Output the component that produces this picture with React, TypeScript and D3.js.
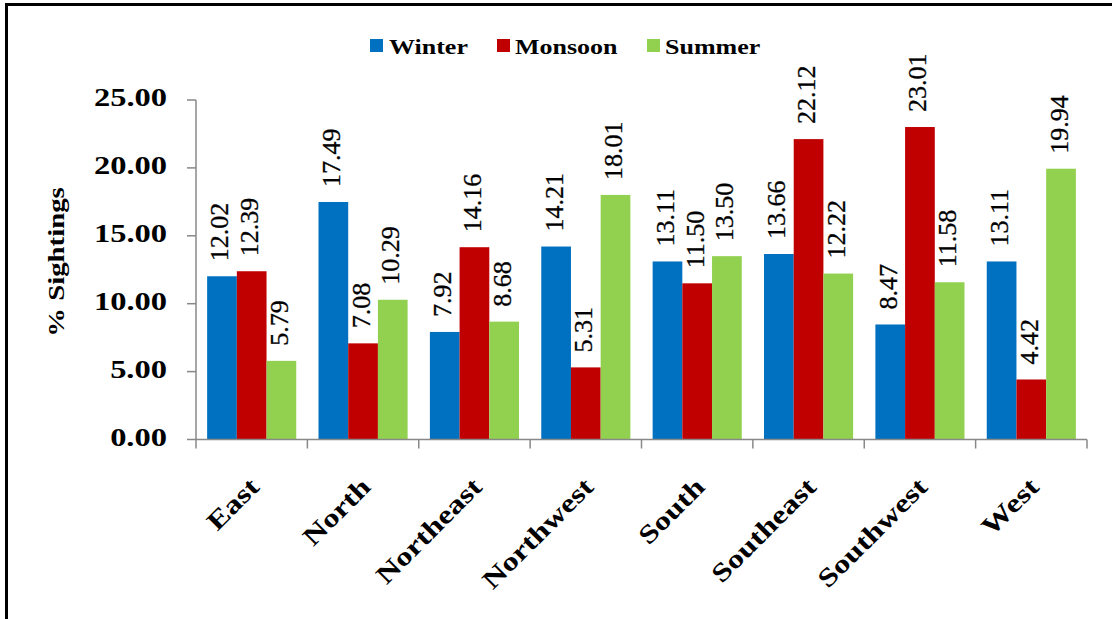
import React from "react";
import * as d3 from "d3";

const categories = ["East", "North", "Northeast", "Northwest", "South", "Southeast", "Southwest", "West"];
const seriesNames = ["Winter", "Monsoon", "Summer"];
const winter = [12.02, 17.49, 7.92, 14.21, 13.11, 13.66, 8.47, 13.11];
const monsoon = [12.39, 7.08, 14.16, 5.31, 11.5, 22.12, 23.01, 4.42];
const summer = [5.79, 10.29, 8.68, 18.01, 13.5, 12.22, 11.58, 19.94];
const yTicks = [0, 5, 10, 15, 20, 25];
const colors = ["#0070C0", "#C00000", "#92D050"];

const W = 1112;
const H = 619;
const plotLeft = 196;
const plotRight = 1087;
const plotTop = 100;
const plotBottom = 439.5;
const font = '"Liberation Serif", "Times New Roman", Times, serif';

export default function App() {
  const series = [winter, monsoon, summer];
  const y = d3.scaleLinear().domain([0, 25]).range([plotBottom, plotTop]);
  const x0 = d3
    .scaleBand<string>()
    .domain(categories)
    .range([plotLeft, plotRight])
    .paddingInner(0.2)
    .paddingOuter(0.1);
  const x1 = d3.scaleBand<string>().domain(seriesNames).range([0, x0.bandwidth()]).padding(0);
  const step = x0.step();
  const boundaries = d3.range(categories.length + 1).map((i) => plotLeft + i * step);

  const legendItems = [
    { name: "Winter", sq: 370, tx: 389 },
    { name: "Monsoon", sq: 497, tx: 515 },
    { name: "Summer", sq: 647, tx: 665 },
  ];

  const tstyle = { fontFamily: font };

  return (
    <svg
      width={W}
      height={H}
      style={{ position: "absolute", left: 0, top: 0, background: "#fff", fontFamily: font }}
    >
      <rect x={0} y={0} width={W} height={H} fill="#fff" />
      <rect x={6.5} y={4.5} width={W + 20} height={H + 20} fill="none" stroke="#000" strokeWidth={3} />

      {/* Legend */}
      {legendItems.map((it, i) => (
        <g key={it.name}>
          <rect x={it.sq} y={39} width={13} height={13} fill={colors[i]} />
          <text
            transform={`translate(${it.tx},54) scale(1.3,1)`}
            style={tstyle}
            fontSize={20}
            fontWeight="bold"
            fill="#000"
          >
            {it.name}
          </text>
        </g>
      ))}

      {/* Y axis */}
      <line x1={plotLeft} x2={plotLeft} y1={plotTop} y2={plotBottom} stroke="#888" strokeWidth={1.5} />
      {yTicks.map((t) => (
        <g key={t}>
          <line x1={plotLeft - 9} x2={plotLeft} y1={y(t)} y2={y(t)} stroke="#888" strokeWidth={1.5} />
          <text
            transform={`translate(167,${y(t) + 6}) scale(1.3,1)`}
            style={tstyle}
            textAnchor="end"
            fontSize={25}
            fontWeight="bold"
            fill="#000"
          >
            {t.toFixed(2)}
          </text>
        </g>
      ))}
      <text
        transform={`translate(64,262) rotate(-90) scale(1.2,1)`}
        style={tstyle}
        textAnchor="middle"
        fontSize={24}
        fontWeight="bold"
        fill="#000"
      >
        % Sightings
      </text>

      {/* Bars */}
      {categories.map((c, ci) => (
        <g key={c}>
          {seriesNames.map((s, si) => {
            const v = series[si][ci];
            const bx = (x0(c) as number) + (x1(s) as number);
            const bw = x1.bandwidth();
            return (
              <rect key={s} x={bx} y={y(v)} width={bw} height={plotBottom - y(v)} fill={colors[si]} />
            );
          })}
        </g>
      ))}

      {/* Data labels */}
      {categories.map((c, ci) => (
        <g key={c + "-lbl"}>
          {seriesNames.map((s, si) => {
            const v = series[si][ci];
            const cx = (x0(c) as number) + (x1(s) as number) + x1.bandwidth() / 2;
            return (
              <text
                key={s}
                transform={`translate(${cx},${y(v) - 15}) rotate(-90)`}
                style={tstyle}
                dy="0.25em"
                fontSize={26}
                fill="#000"
                stroke="#000"
                strokeWidth={0.3}
              >
                {v.toFixed(2)}
              </text>
            );
          })}
        </g>
      ))}

      {/* X axis */}
      <line x1={plotLeft} x2={plotRight} y1={plotBottom} y2={plotBottom} stroke="#888" strokeWidth={1.5} />
      {boundaries.map((b, i) => (
        <line key={i} x1={b} x2={b} y1={plotBottom} y2={plotBottom + 9} stroke="#888" strokeWidth={1.5} />
      ))}
      {categories.map((c) => {
        const cx = (x0(c) as number) + x0.bandwidth() / 2;
        return (
          <text
            key={c}
            transform={`translate(${cx + 9},${plotBottom + 49}) rotate(-45) scale(1.25,1)`}
            style={tstyle}
            textAnchor="end"
            fontSize={26}
            fontWeight="bold"
            fill="#000"
          >
            {c}
          </text>
        );
      })}
    </svg>
  );
}
